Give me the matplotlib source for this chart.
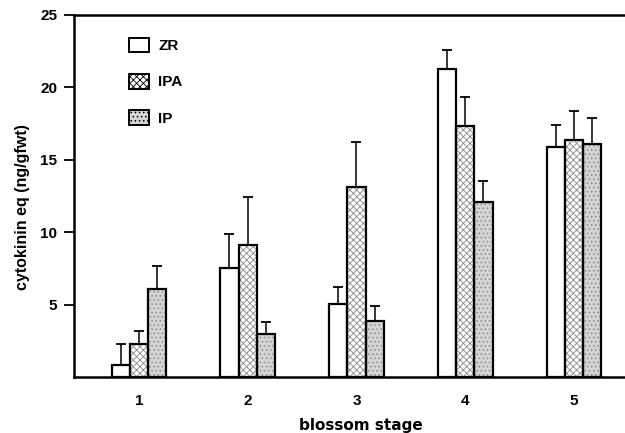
import numpy as np
import matplotlib
matplotlib.use('Agg')
import matplotlib.pyplot as plt
from matplotlib.patches import Patch

plt.rcParams['font.family'] = ['Liberation Sans', 'DejaVu Sans']
plt.rcParams['font.weight'] = 'bold'
plt.rcParams['hatch.linewidth'] = 0.6

stages = ['1', '2', '3', '4', '5']
zr = [0.85, 7.55, 5.05, 21.3, 15.9]
zr_err = [1.4, 2.35, 1.15, 1.25, 1.5]
ipa = [2.3, 9.15, 13.15, 17.3, 16.35]
ipa_err = [0.9, 3.3, 3.05, 2.05, 2.05]
ip = [6.05, 3.0, 3.9, 12.1, 16.1]
ip_err = [1.65, 0.8, 1.0, 1.45, 1.8]

series = [
    ('ZR', zr, zr_err, 'white', None),
    ('IPA', ipa, ipa_err, 'white', 'xxxxx'),
    ('IP', ip, ip_err, '#d4d4d4', '....'),
]

fig = plt.figure(figsize=(6.25, 4.33), dpi=100)
ax = fig.add_axes([0.1184, 0.1293, 0.8816, 0.8361])

x = np.arange(1, len(stages) + 1)
w = 0.168
handles = []
for i, (name, vals, errs, fc, hatch) in enumerate(series):
    pos = x + (i - 1) * w
    # hatch layer in grey, outline layer in black on top
    if hatch:
        ax.bar(pos, vals, w, color=fc, edgecolor='#8a8a8a', hatch=hatch,
               linewidth=0, zorder=2)
    else:
        ax.bar(pos, vals, w, color=fc, linewidth=0, zorder=2)
    ax.bar(pos, vals, w, fill=False, edgecolor='black', linewidth=1.6, zorder=3)
    ax.errorbar(pos, vals, yerr=[np.zeros(len(errs)), errs], fmt='none',
                ecolor='black', elinewidth=1.1, capsize=3.5, capthick=1.3, zorder=1)
    handles.append(Patch(facecolor=fc, edgecolor='black', hatch=hatch,
                         linewidth=1.4, label=name))

ax.set_xlim(0.402, 5.47)
ax.set_ylim(0, 25)
ax.set_xticks(x)
ax.set_xticklabels(stages)
ax.set_yticks([5, 10, 15, 20, 25])
ax.tick_params(axis='x', length=0, pad=12, labelsize=11)
ax.tick_params(axis='y', length=7, width=1.3, direction='out', pad=5, labelsize=11)

for s in ['left', 'bottom', 'top']:
    ax.spines[s].set_linewidth(1.8)
ax.spines['right'].set_visible(False)

ax.set_ylabel('cytokinin eq (ng/gfwt)', fontsize=11.5, fontweight='bold')
ax.yaxis.set_label_coords(-0.08, 0.47)
ax.set_xlabel('blossom stage', fontsize=11, fontweight='bold',
              family=['DejaVu Sans'])
ax.xaxis.set_label_coords(0.52, -0.112)

leg = ax.legend(handles=handles, loc='upper left', bbox_to_anchor=(0.075, 0.975),
                frameon=False, handlelength=1.3, handleheight=1.1,
                labelspacing=1.35, handletextpad=0.6, fontsize=11)

fig.savefig('out.png', dpi=100)
